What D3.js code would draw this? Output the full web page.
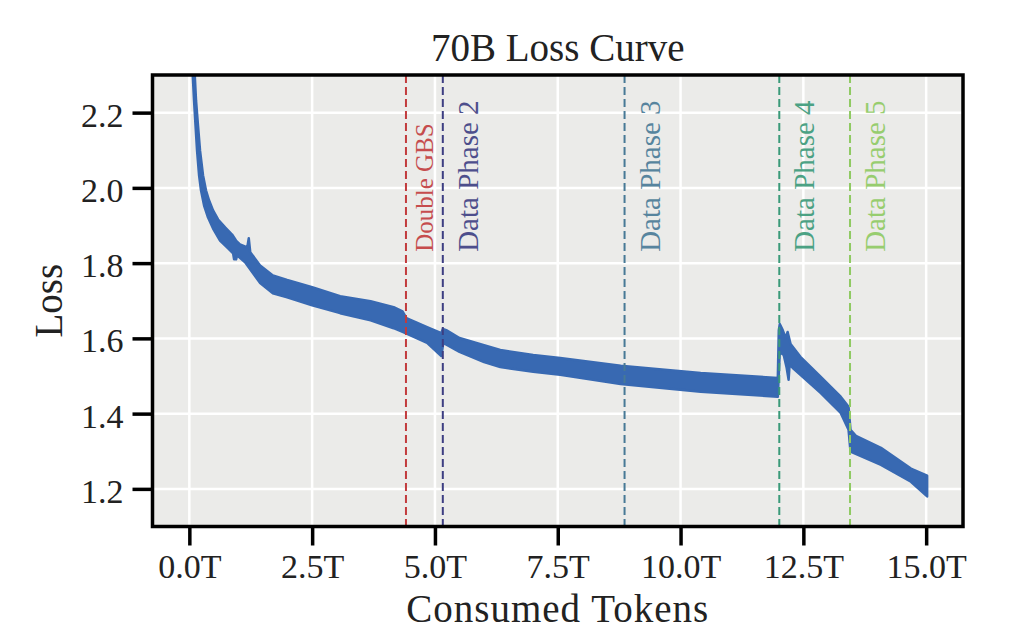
<!DOCTYPE html>
<html>
<head>
<meta charset="utf-8">
<script src="https://cdn.jsdelivr.net/npm/d3@7"></script>
<style>
  body { margin: 0; background: #fff; }
  text { font-family: 'Liberation Serif', serif; fill: #222; }
</style>
</head>
<body>
<div class="chart"></div>
<script>
// ======= 70B LOSS CURVE =======

// band of the noisy loss curve (T tokens, loss)
const upperT = [0.106, 0.137, 0.177, 0.218, 0.279, 0.340, 0.401, 0.483, 0.585, 0.728, 0.870, 0.95, 1.03, 1.18, 1.21, 1.24, 1.44, 1.70, 1.99, 2.50, 3.07, 3.69, 4.16, 4.34, 4.42, 4.84, 5.13, 5.16, 5.23, 5.50, 6.00, 6.33, 7.00, 7.55, 8.78, 10.41, 11.98, 12.00, 12.02, 12.08, 12.14, 12.18, 12.24, 12.44, 12.85, 13.26, 13.42, 13.46, 13.57, 14.08, 14.69, 15.02]
const upperLoss = [2.311, 2.231, 2.165, 2.099, 2.033, 1.993, 1.967, 1.940, 1.916, 1.895, 1.876, 1.860, 1.850, 1.842, 1.866, 1.829, 1.794, 1.767, 1.755, 1.736, 1.712, 1.699, 1.683, 1.672, 1.654, 1.630, 1.614, 1.625, 1.622, 1.601, 1.582, 1.569, 1.556, 1.548, 1.527, 1.508, 1.495, 1.622, 1.638, 1.622, 1.601, 1.617, 1.585, 1.551, 1.498, 1.445, 1.418, 1.357, 1.341, 1.309, 1.254, 1.235]

const lowerT = [0.065, 0.096, 0.126, 0.157, 0.198, 0.238, 0.300, 0.381, 0.483, 0.625, 0.789, 0.891, 0.911, 0.952, 0.972, 1.135, 1.441, 1.70, 1.991, 2.50, 3.07, 3.69, 4.16, 4.40, 4.84, 5.13, 5.17, 5.50, 6.00, 6.33, 7.00, 7.55, 8.78, 10.41, 11.98, 12.02, 12.10, 12.16, 12.20, 12.22, 12.28, 12.44, 12.85, 13.26, 13.42, 13.46, 14.08, 14.69, 15.02]
const lowerLoss = [2.311, 2.231, 2.165, 2.099, 2.033, 1.993, 1.953, 1.921, 1.892, 1.860, 1.839, 1.826, 1.810, 1.810, 1.821, 1.802, 1.747, 1.720, 1.709, 1.688, 1.667, 1.648, 1.627, 1.614, 1.588, 1.553, 1.588, 1.564, 1.537, 1.524, 1.511, 1.503, 1.479, 1.458, 1.445, 1.564, 1.556, 1.522, 1.490, 1.530, 1.522, 1.503, 1.455, 1.402, 1.357, 1.299, 1.264, 1.219, 1.180]

// event markers
const eventNames = ['Double GBS', 'Data Phase 2', 'Data Phase 3', 'Data Phase 4', 'Data Phase 5']
const eventT = [4.41, 5.16, 8.86, 12.01, 13.45]
const eventColors = ['#c23b3d', '#3d3e82', '#477996', '#3a9a79', '#8fca62']

const xTicks = [0, 2.5, 5, 7.5, 10, 12.5, 15]
const yTicks = [1.2, 1.4, 1.6, 1.8, 2.0, 2.2]

const margin = { top: 75, right: 61, bottom: 112.5, left: 152.5 }
const W = 1024, H = 639
const width = W - margin.left - margin.right
const height = H - margin.top - margin.bottom

const svg = d3.select('.chart')
  .append('svg')
    .attr('width', W)
    .attr('height', H)

const g = svg.append('g')
    .attr('transform', `translate(${margin.left}, ${margin.top})`)

const x = d3.scaleLinear().domain([-0.75, 15.75]).range([0, width])
const y = d3.scaleLinear().domain([1.1, 2.3]).range([height, 0])

g.append('rect')
  .attr('width', width)
  .attr('height', height)
  .style('fill', '#ebebe9')

g.append('clipPath').attr('id', 'clip')
  .append('rect').attr('width', width).attr('height', height)

// grid
g.selectAll('.gx').data(xTicks).enter().append('line')
  .attr('x1', d => x(d)).attr('x2', d => x(d))
  .attr('y1', 0).attr('y2', height)
  .style('stroke', '#fff').style('stroke-width', 2.5)
g.selectAll('.gy').data(yTicks).enter().append('line')
  .attr('x1', 0).attr('x2', width)
  .attr('y1', d => y(d)).attr('y2', d => y(d))
  .style('stroke', '#fff').style('stroke-width', 2.5)

// loss band: upper edge then lower edge back
const upperPts = upperT.map((t, i) => [t, upperLoss[i]])
const lowerPts = lowerT.map((t, i) => [t, lowerLoss[i]]).reverse()
const line = d3.line().x(d => x(d[0])).y(d => y(d[1]))

g.append('path')
  .attr('clip-path', 'url(#clip)')
  .attr('d', line(upperPts.concat(lowerPts)) + 'Z')
  .style('fill', '#3869b2')
  .style('stroke', '#3869b2')
  .style('stroke-width', 2.5)
  .style('stroke-linejoin', 'round')

// event lines + labels
g.selectAll('.ev').data(eventT).enter().append('line')
  .attr('x1', d => x(d)).attr('x2', d => x(d))
  .attr('y1', 0).attr('y2', height)
  .style('stroke', (d, i) => eventColors[i])
  .style('stroke-width', 2)
  .style('stroke-dasharray', '8,4')

g.selectAll('.evl').data(eventT).enter().append('text')
  .attr('transform', (d, i) => `translate(${x(d) + (i === 0 ? 27 : 35)}, ${y(1.83)}) rotate(-90)`)
  .style('font-size', (d, i) => i === 0 ? '25px' : '29px')
  .style('fill', (d, i) => eventColors[i])
  .style('opacity', 0.9)
  .text((d, i) => eventNames[i])

// spines
g.append('rect')
  .attr('width', width)
  .attr('height', height)
  .style('fill', 'none')
  .style('stroke', '#000')
  .style('stroke-width', 3.5)

const xAxis = d3.axisBottom(x)
  .tickValues(xTicks)
  .tickSize(19)
  .tickPadding(8)
  .tickFormat(d => d.toFixed(1) + 'T')
g.append('g')
  .attr('transform', `translate(0, ${height})`)
  .call(xAxis)
  .call(a => a.select('.domain').remove())
  .call(a => a.selectAll('line').style('stroke', '#000').style('stroke-width', 3.5))
  .call(a => a.selectAll('text').style('font-size', '34px').style('font-family', "'Liberation Serif', serif").style('fill', '#222'))

const yAxis = d3.axisLeft(y)
  .tickValues(yTicks)
  .tickSize(20)
  .tickPadding(9)
  .tickFormat(d3.format('.1f'))
g.append('g')
  .call(yAxis)
  .call(a => a.select('.domain').remove())
  .call(a => a.selectAll('line').style('stroke', '#000').style('stroke-width', 3.5))
  .call(a => a.selectAll('text').style('font-size', '34px').style('font-family', "'Liberation Serif', serif").style('fill', '#222').attr('dy', '0.4em'))

// titles
svg.append('text')
  .attr('x', margin.left + width / 2)
  .attr('y', 61)
  .attr('text-anchor', 'middle')
  .style('font-size', '39px')
  .text('70B Loss Curve')

svg.append('text')
  .attr('x', margin.left + width / 2)
  .attr('y', 622)
  .attr('text-anchor', 'middle')
  .style('font-size', '39px')
  .style('letter-spacing', '1px')
  .text('Consumed Tokens')

svg.append('text')
  .attr('transform', `translate(62, ${margin.top + height / 2}) rotate(-90)`)
  .attr('text-anchor', 'middle')
  .style('font-size', '39px')
  .text('Loss')
</script>
</body>
</html>
